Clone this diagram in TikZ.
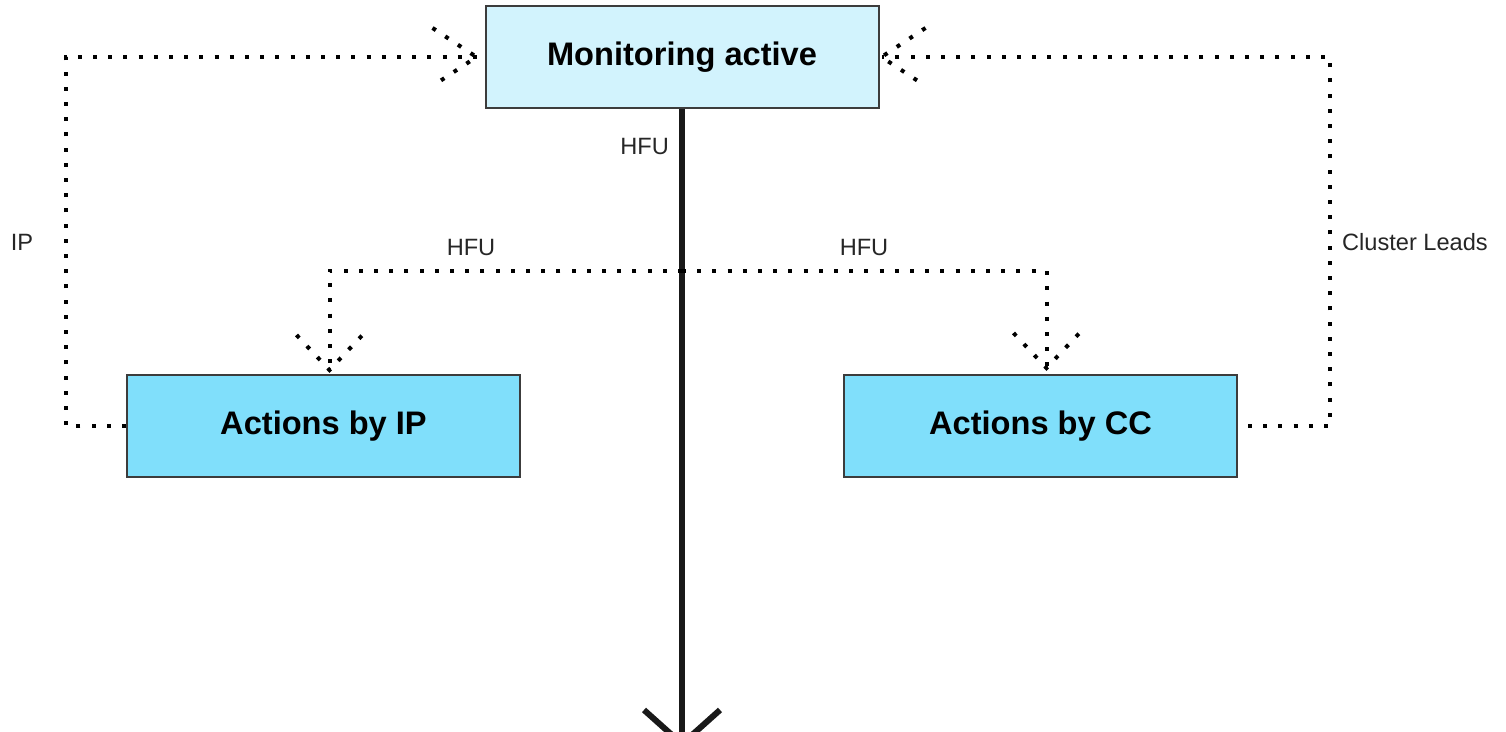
\documentclass[tikz,border=0pt]{standalone}
\usepackage{fontspec}
\setmainfont{Liberation Sans}
\usetikzlibrary{arrows.meta}

\definecolor{monfill}{RGB}{210,243,253}
\definecolor{actfill}{RGB}{128,223,251}
\definecolor{boxline}{RGB}{60,60,60}

\begin{document}
\begin{tikzpicture}[x=0.5pt, y=-0.5pt,
	box/.style = {rectangle, draw = boxline, line width = 1pt,
		minimum width = 196.5pt, minimum height = 51pt,
		font = \fontsize{16.3}{19}\selectfont\bfseries},
	dotline/.style = {line width = 2pt, dash pattern = on 2pt off 5.6pt, line cap = butt},
	lbl/.style = {font = \fontsize{11.8}{14}\selectfont, text = black!85},
	dothead/.pic = {\draw[dotline] (-44,-29) -- (0,0) -- (-44,29);},
	downhead/.pic = {\draw[dotline] (-33,-35) -- (0,0) -- (33,-35);}]
\useasboundingbox (0,0) rectangle (1506,732);

\node[box, fill = monfill] (mon) at (682,57) {Monitoring active};
\node[box, fill = actfill] (ip) at (323.5,426) {Actions by IP};
\node[box, fill = actfill] (cc) at (1040.5,426) {Actions by CC};

% main flow out of the picture
\coordinate (out) at (682,748);
\draw[line width = 3pt, black!90, -{Straight Barb[length = 17pt, width = 38pt]}] (mon.south) -- (out);
\node[lbl, anchor = east] (hfu0) at (676,147) {HFU};

% HFU branches
\coordinate (split) at (682,271);
\draw[dotline] (split) -| ([xshift = 3pt]ip.north);
\draw[dotline] (split) -| ([xshift = 3pt]cc.north);
\pic at ([xshift = 3pt, yshift = 2pt]ip.north) {downhead};
\pic at ([xshift = 3pt, yshift = 3pt]cc.north) {downhead};
\node[lbl] (hfu1) at (471,248) {HFU};
\node[lbl] (hfu2) at (864,248) {HFU};

% feedback loops
\coordinate (ipc) at (66,57);
\coordinate (ccc) at (1330,57);
\draw[dotline] (ip.west) -| (ipc) -- ([xshift = -4pt]mon.west);
\draw[dotline, shorten < = 5pt] (cc.east) -| (ccc) -- ([xshift = 1pt]mon.east);
\pic at ([xshift = -4pt]mon.west) {dothead};
\pic[xscale = -1] at ([xshift = 1pt]mon.east) {dothead};
\node[lbl] (iplbl) at (22,242) {IP};
\node[lbl] (cclbl) at (1415,242) {Cluster Leads};
\end{tikzpicture}
\end{document}
